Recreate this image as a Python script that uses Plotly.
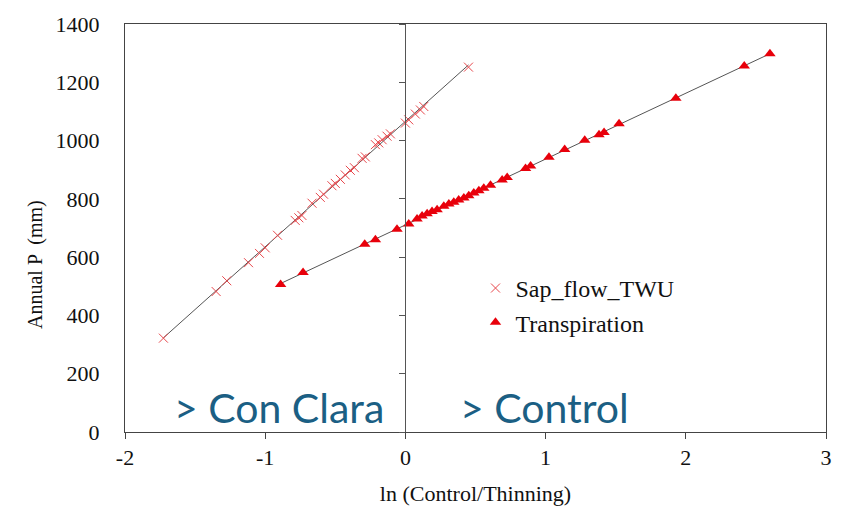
import numpy as np
import plotly.graph_objects as go

# ---- data ----
sap_x = [-1.726, -1.35, -1.274, -1.119, -1.041, -1.0, -0.912, -0.786, -0.76, -0.738,
         -0.666, -0.607, -0.584, -0.524, -0.5, -0.464, -0.429, -0.393, -0.364, -0.309,
         -0.286, -0.214, -0.19, -0.166, -0.131, -0.107, 0.0, 0.024, 0.071, 0.107, 0.131, 0.45]
sap_y = [322, 482, 519, 581, 613, 632, 675, 726, 735, 743,
         785, 805, 816, 845, 853, 867, 882, 898, 907, 939,
         944, 986, 992, 1003, 1015, 1023, 1060, 1071, 1091, 1105, 1117, 1252]

tr_x = [-0.89, -0.73, -0.29, -0.214, -0.06, 0.024, 0.083, 0.119, 0.155, 0.19,
        0.226, 0.274, 0.31, 0.345, 0.38, 0.417, 0.452, 0.488, 0.524, 0.559,
        0.607, 0.69, 0.726, 0.857, 0.893, 1.024, 1.136, 1.279, 1.381, 1.417,
        1.524, 1.929, 2.417, 2.6]
tr_y = [506, 547, 644, 660, 696, 714, 731, 741, 749, 757,
        763, 775, 782, 788, 796, 803, 811, 820, 828, 836,
        847, 865, 873, 904, 913, 943, 969, 1001, 1020, 1028,
        1058, 1145, 1256, 1298]

x_ticks = [-2, -1, 0, 1, 2, 3]
y_ticks = [0, 200, 400, 600, 800, 1000, 1200, 1400]

serif = "Liberation Serif"

def fit_line(xs, ys):
    k, b = np.polyfit(xs, ys, 1)
    xx = np.array([min(xs), max(xs)])
    return xx, k * xx + b

fig = go.Figure()

lx, ly = fit_line(sap_x, sap_y)
fig.add_trace(go.Scatter(x=lx, y=ly, mode="lines", line=dict(color="#555555", width=1),
                         showlegend=False, hoverinfo="skip"))
lx2, ly2 = fit_line(tr_x, tr_y)
fig.add_trace(go.Scatter(x=lx2, y=ly2, mode="lines", line=dict(color="#555555", width=1),
                         showlegend=False, hoverinfo="skip"))

fig.add_trace(go.Scatter(x=sap_x, y=sap_y, mode="markers", name="Sap_flow_TWU",
                         marker=dict(symbol="x-thin-open", size=9, color="#E8474C",
                                     line=dict(color="#E8474C", width=1))))
fig.add_trace(go.Scatter(x=tr_x, y=tr_y, mode="markers", name="Transpiration",
                         marker=dict(symbol="triangle-up", size=10, color="#E8000B",
                                     line=dict(width=0))))

# invisible trace for the secondary y axis (ticks on the x=0 line)
fig.add_trace(go.Scatter(x=[None], y=[None], yaxis="y2", showlegend=False, hoverinfo="skip"))

fig.add_annotation(x=-0.9, y=85, xref="x", yref="y", text="> Con Clara", showarrow=False,
                   font=dict(family="Lato", size=41, color="#1B5F84"))
fig.add_annotation(x=0.99, y=85, xref="x", yref="y", text="> Control", showarrow=False,
                   font=dict(family="Lato", size=41, color="#1B5F84"))

# y axis title placed as in the reference (slightly below centre)
fig.add_annotation(x=-0.128, y=0.41, xref="paper", yref="paper", text="Annual P  (mm)",
                   textangle=-90, showarrow=False, xanchor="center", yanchor="middle",
                   font=dict(family=serif, size=20, color="#111111"))

fig.update_layout(
    width=847, height=515,
    margin=dict(l=125, r=21, t=21, b=83),
    paper_bgcolor="white", plot_bgcolor="white",
    font=dict(family=serif, color="#111111"),
    legend=dict(x=0.5, y=0.407, xanchor="left", yanchor="top",
                font=dict(family=serif, size=24, color="#111111"),
                bgcolor="rgba(0,0,0,0)", itemwidth=30, tracegroupgap=0),
    xaxis=dict(range=[-2, 3], tickvals=x_ticks, ticktext=[str(v) for v in x_ticks],
               showgrid=False, zeroline=False, showline=True, linecolor="#444444",
               linewidth=1, mirror=True, ticks="outside", ticklen=6, tickcolor="#444444",
               tickfont=dict(family=serif, size=22),
               title=dict(text="ln (Control/Thinning)", font=dict(family=serif, size=22),
                          standoff=16)),
    yaxis=dict(range=[0, 1400], tickvals=y_ticks, showgrid=False, zeroline=False,
               showline=True, linecolor="#444444", linewidth=1, mirror=True, ticks="",
               tickfont=dict(family=serif, size=22), ticklabelstandoff=20),
    yaxis2=dict(range=[0, 1400], tickvals=y_ticks, overlaying="y", anchor="free",
                position=0.4, side="left", showgrid=False, zeroline=False,
                showline=True, linecolor="#555555", linewidth=1, ticks="outside",
                ticklen=6, tickcolor="#555555", showticklabels=False),
)

fig.write_html("out.html")
